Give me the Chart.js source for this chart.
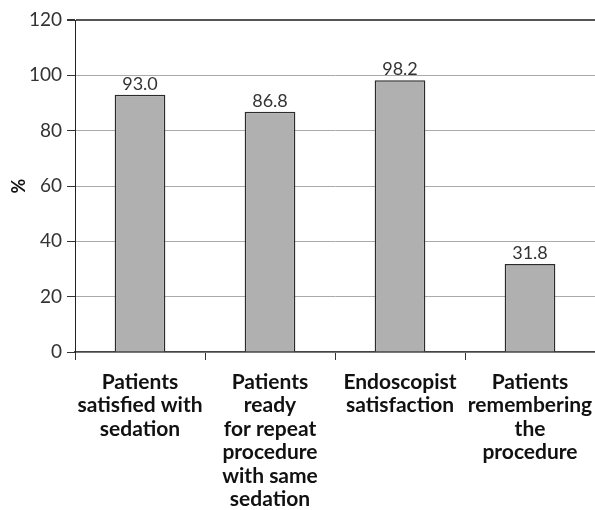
<!DOCTYPE html>
<html>
<head>
<meta charset="utf-8">
<script src="https://cdn.jsdelivr.net/npm/chart.js@4/dist/chart.umd.min.js"></script>
<style>
  html, body { margin: 0; padding: 0; background: #fff; }
  #wrap { width: 595px; height: 510px; }
</style>
</head>
<body>
<div id="wrap"><canvas id="chart" width="595" height="510"></canvas></div>
<script>
// datos del grafico
const categories = [
  ['Patients', 'satisfied with', 'sedation'],
  ['Patients', 'ready', 'for repeat', 'procedure', 'with same', 'sedation'],
  ['Endoscopist', 'satisfaction'],
  ['Patients', 'remembering', 'the', 'procedure']
];
const values = [93.0, 86.8, 98.2, 31.8];
const yTicks = [0, 20, 40, 60, 80, 100, 120];

const fontFamily = 'Lato, "Open Sans", sans-serif';

// plugin para escribir el valor encima de cada barra
const barValues = {
  id: 'barValues',
  afterDatasetsDraw(chart) {
    const ctx = chart.ctx;
    const meta = chart.getDatasetMeta(0);
    ctx.save();
    ctx.font = '18px ' + fontFamily;
    ctx.fillStyle = '#333';
    ctx.textAlign = 'center';
    ctx.textBaseline = 'alphabetic';
    meta.data.forEach((bar, i) => {
      ctx.fillText(values[i].toFixed(1), bar.x, bar.y - 5);
    });
    ctx.restore();
  }
};

new Chart(document.getElementById('chart'), {
  type: 'bar',
  data: {
    labels: categories,
    datasets: [{
      data: values,
      backgroundColor: '#b0b0b0',
      borderColor: '#2b2b2b',
      borderWidth: 1.5,
      barPercentage: 0.39,
      categoryPercentage: 1
    }]
  },
  options: {
    responsive: false,
    animation: false,
    layout: { padding: { top: 20, right: 0, left: 0, bottom: 0 } },
    plugins: {
      legend: { display: false },
      tooltip: { enabled: false }
    },
    scales: {
      x: {
        // el area del grafico llega hasta el borde derecho
        afterFit: (scale) => {
          scale.height = 158;
          scale.paddingLeft = 0;
          scale.paddingRight = 0;
        },
        grid: {
          drawOnChartArea: false,
          drawTicks: true,
          tickLength: 8,
          tickColor: '#333'
        },
        border: { color: '#444', width: 1.5 },
        ticks: {
          color: '#111',
          padding: 10,
          maxRotation: 0,
          autoSkip: false,
          font: { family: fontFamily, size: 21, weight: 'bold', lineHeight: 1.12 }
        }
      },
      y: {
        min: 0,
        max: 120,
        afterFit: (scale) => { scale.width = 75; },
        afterBuildTicks: (scale) => { scale.ticks = yTicks.map(v => ({ value: v })); },
        grid: {
          color: (c) => c.tick && c.tick.value === 120 ? '#555' : '#aaa',
          lineWidth: (c) => c.tick && c.tick.value === 120 ? 2 : 1,
          tickLength: 8,
          tickColor: '#333'
        },
        border: { color: '#222', width: 1 },
        ticks: {
          color: '#333',
          padding: 5,
          font: { family: fontFamily, size: 19 }
        },
        title: {
          display: true,
          text: '%',
          color: '#111',
          padding: { top: 8, bottom: 0 },
          font: { family: fontFamily, size: 18, weight: 'bold' }
        }
      }
    }
  },
  plugins: [barValues]
});
</script>
</body>
</html>
